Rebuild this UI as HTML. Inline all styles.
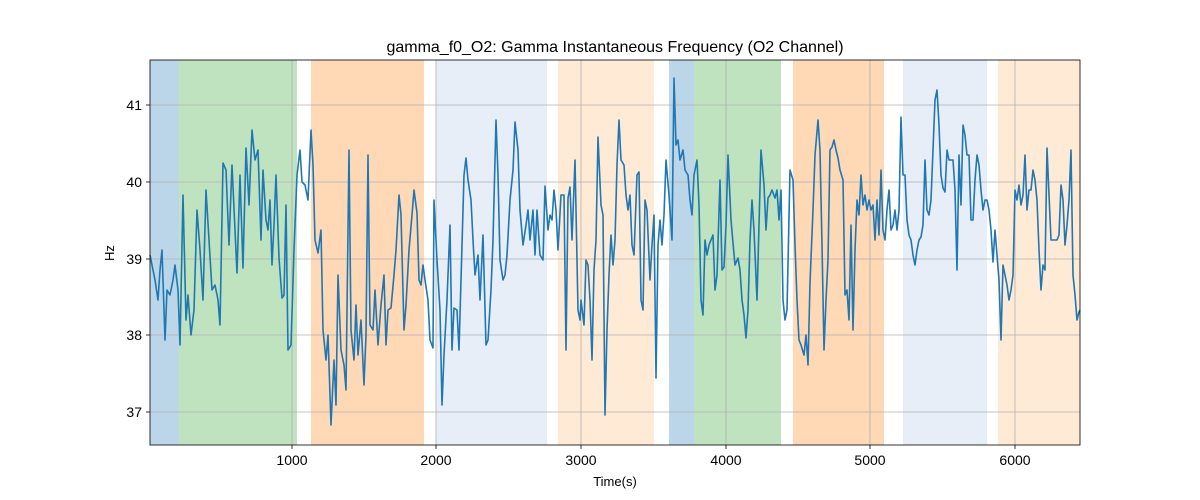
<!DOCTYPE html>
<html><head><meta charset="utf-8"><style>body{margin:0;background:#fff}svg{display:block;font-family:"Liberation Sans","DejaVu Sans",sans-serif}</style></head><body>
<svg width="1200" height="500" viewBox="0 0 1200 500" xmlns="http://www.w3.org/2000/svg">
<rect width="1200" height="500" fill="#fff"/>
<g>
<rect x="150" y="60" width="29" height="385" fill="#1f77b4" fill-opacity="0.3"/>
<rect x="179" y="60" width="118" height="385" fill="#2ca02c" fill-opacity="0.3"/>
<rect x="311" y="60" width="113" height="385" fill="#ff7f0e" fill-opacity="0.3"/>
<rect x="436" y="60" width="111" height="385" fill="#aec7e8" fill-opacity="0.3"/>
<rect x="558" y="60" width="96" height="385" fill="#ffbb78" fill-opacity="0.3"/>
<rect x="669" y="60" width="25" height="385" fill="#1f77b4" fill-opacity="0.3"/>
<rect x="694" y="60" width="87" height="385" fill="#2ca02c" fill-opacity="0.3"/>
<rect x="793" y="60" width="91" height="385" fill="#ff7f0e" fill-opacity="0.3"/>
<rect x="903" y="60" width="84" height="385" fill="#aec7e8" fill-opacity="0.3"/>
<rect x="998" y="60" width="82" height="385" fill="#ffbb78" fill-opacity="0.3"/>
</g>
<g stroke="#b0b0b0" stroke-width="0.8">
<line x1="292" y1="60" x2="292" y2="445"/><line x1="436" y1="60" x2="436" y2="445"/><line x1="581" y1="60" x2="581" y2="445"/><line x1="726" y1="60" x2="726" y2="445"/><line x1="870" y1="60" x2="870" y2="445"/><line x1="1015" y1="60" x2="1015" y2="445"/>
<line x1="150" y1="105" x2="1080" y2="105"/><line x1="150" y1="182" x2="1080" y2="182"/><line x1="150" y1="259" x2="1080" y2="259"/><line x1="150" y1="335" x2="1080" y2="335"/><line x1="150" y1="412" x2="1080" y2="412"/>
</g>
<polyline fill="none" stroke="#1f77b4" stroke-width="1.6" stroke-linejoin="round" points="150,255 155,280 158,300 160,270 162,250 165,340 167,290 170,295 173,280 175,265 178,290 180,345 183,195 186,320 188,295 191,335 194,310 197,210 200,250 203,300 206,190 209,240 212,290 215,285 218,300 220,325 223,163 226,170 229,245 232,165 235,230 237,273 240,175 243,268 246,148 249,205 252,130 255,160 258,150 261,240 263,170 266,220 268,230 270,200 272,265 274,225 276,175 279,258 282,298 284,295 286,205 288,350 291,345 294,250 297,175 300,150 302,182 305,185 308,200 311,130 313,165 315,240 318,253 321,230 323,330 326,360 328,335 331,425 334,360 336,405 338,275 341,350 344,365 346,390 349,150 351,330 354,360 356,305 358,355 361,320 364,385 366,335 368,155 370,325 373,330 375,290 378,345 381,305 384,275 386,345 388,310 391,308 394,275 396,250 399,195 401,215 404,330 406,305 409,250 412,215 414,190 417,213 419,280 421,285 423,265 425,280 428,300 430,340 433,348 434,200 437,260 440,310 442,405 444,355 447,300 450,225 452,350 454,308 457,310 459,350 462,245 464,175 466,158 468,180 471,200 473,240 475,275 478,255 480,300 483,235 486,345 488,340 491,290 493,240 496,120 498,175 500,260 503,280 505,275 507,255 510,200 513,170 515,122 518,150 520,210 523,245 526,225 528,210 530,240 533,210 535,255 537,210 540,255 543,260 545,186 548,230 550,215 552,220 554,190 556,210 558,250 561,195 564,195 566,350 568,198 570,187 572,240 575,160 578,310 580,320 581,300 584,325 586,260 588,265 590,300 592,360 594,270 596,240 598,137 601,205 603,215 605,415 607,330 609,275 611,235 613,265 615,240 617,165 619,120 621,160 624,165 626,195 628,210 630,195 632,245 634,255 637,175 639,172 641,300 643,310 645,200 647,210 650,280 652,245 654,215 656,378 658,245 660,220 662,245 664,215 666,160 669,195 672,240 674,78 676,145 678,140 680,160 683,150 685,170 688,175 690,200 692,215 694,175 697,160 699,205 701,300 703,315 705,240 707,255 709,245 711,240 713,235 715,290 717,275 720,180 722,270 724,267 726,225 728,155 731,220 733,243 735,265 738,258 740,270 742,300 744,315 746,338 748,310 750,240 752,200 754,230 757,300 759,225 761,150 764,185 766,230 768,198 770,195 772,190 775,198 777,190 779,220 781,190 783,300 785,320 787,310 790,170 793,180 795,245 797,300 799,340 801,345 804,355 806,335 808,365 810,283 813,210 815,155 818,120 820,150 822,245 824,350 826,300 828,260 830,150 832,147 834,140 836,150 838,158 840,170 843,180 845,295 847,290 849,320 851,225 853,330 855,250 857,200 859,215 861,175 863,205 865,195 867,210 869,200 871,210 873,205 875,240 877,200 879,235 881,170 883,230 885,240 887,210 889,190 891,230 893,225 895,210 897,230 899,210 901,117 903,175 905,175 907,220 909,235 911,240 913,255 915,265 917,250 919,240 921,237 923,225 925,160 927,210 929,215 931,200 933,150 935,100 937,90 939,125 941,175 943,188 945,192 947,150 949,160 951,160 953,160 955,190 957,270 959,155 961,205 963,125 965,135 967,155 969,155 971,220 973,220 975,180 977,155 979,165 981,190 983,210 985,200 987,200 989,210 991,230 993,262 995,230 997,255 999,280 1001,340 1003,265 1005,275 1007,285 1009,300 1011,290 1013,275 1015,190 1017,200 1019,185 1021,205 1023,195 1025,155 1027,210 1029,190 1031,190 1033,170 1035,180 1037,200 1039,250 1041,290 1043,265 1045,270 1047,148 1049,195 1051,240 1053,240 1055,240 1057,240 1059,235 1061,185 1063,200 1065,245 1067,225 1069,200 1071,150 1073,275 1075,295 1077,320 1079,312 1080,310"/>
<rect x="150" y="60" width="930" height="385" fill="none" stroke="#000" stroke-width="0.8"/>
<g stroke="#000" stroke-width="0.8">
<line x1="292" y1="445" x2="292" y2="449"/><line x1="436" y1="445" x2="436" y2="449"/><line x1="581" y1="445" x2="581" y2="449"/><line x1="726" y1="445" x2="726" y2="449"/><line x1="870" y1="445" x2="870" y2="449"/><line x1="1015" y1="445" x2="1015" y2="449"/>
<line x1="146" y1="105" x2="150" y2="105"/><line x1="146" y1="182" x2="150" y2="182"/><line x1="146" y1="259" x2="150" y2="259"/><line x1="146" y1="335" x2="150" y2="335"/><line x1="146" y1="412" x2="150" y2="412"/>
</g>
<g font-size="14" fill="#000" text-anchor="middle">
<text x="292" y="465">1000</text><text x="436" y="465">2000</text><text x="581" y="465">3000</text><text x="726" y="465">4000</text><text x="870" y="465">5000</text><text x="1015" y="465">6000</text>
<text x="615" y="486" font-size="13">Time(s)</text>
<text x="615" y="52" font-size="16">gamma_f0_O2: Gamma Instantaneous Frequency (O2 Channel)</text>
</g>
<g font-size="14" fill="#000" text-anchor="end">
<text x="142" y="110">41</text><text x="142" y="187">40</text><text x="142" y="264">39</text><text x="142" y="340">38</text><text x="142" y="417">37</text>
</g>
<text x="114" y="253" font-size="13" text-anchor="middle" transform="rotate(-90 114 253)">Hz</text>
</svg>
</body></html>
